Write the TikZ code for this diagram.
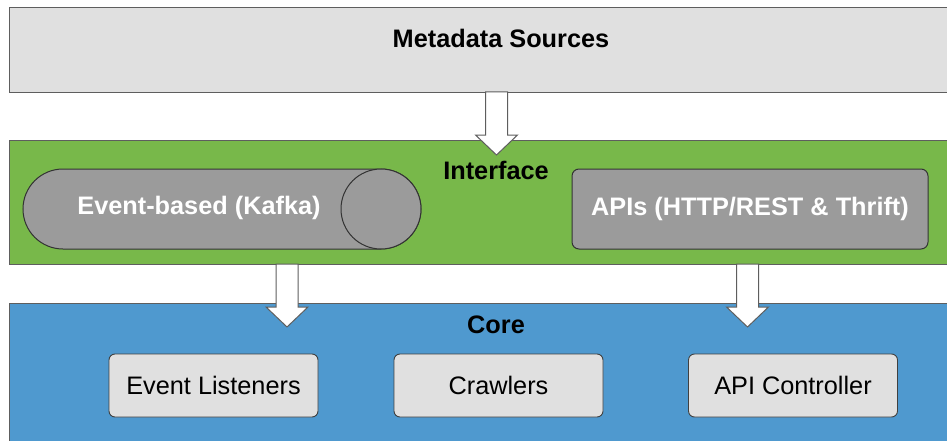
\documentclass[tikz,border=0pt]{standalone}
\usepackage{fontspec}
\setmainfont{Liberation Sans}
\usetikzlibrary{calc}
\definecolor{metagray}{HTML}{E0E0E0}
\definecolor{ifgreen}{HTML}{78B84A}
\definecolor{coreblue}{HTML}{4F99CF}
\definecolor{darkfill}{HTML}{9B9B9B}
\definecolor{edgegray}{HTML}{5E5E5E}
\newcommand\blockarrow[2]{%
  \draw[blockarr] ($(#1)+(-11,0)$) -- ($(#1)+(11,0)$) -- ($(#2)+(11,-20)$) -- ($(#2)+(21,-20)$) -- (#2) -- ($(#2)+(-21,-20)$) -- ($(#2)+(-11,-20)$) -- cycle;}
\begin{document}
\begin{tikzpicture}[x=1pt,y=-1pt,
  band/.style={draw=edgegray, line width=1.2pt, anchor=north west, inner sep=0pt, minimum width=960pt},
  innerbox/.style={draw=black!75, fill=metagray, line width=0.9pt, rounded corners=6pt, minimum width=209pt, minimum height=63pt, inner sep=0pt, font=\fontsize{25.3}{29}\selectfont},
  title/.style={font=\bfseries\fontsize{25.3}{29}\selectfont, inner sep=0pt},
  blockarr/.style={draw=edgegray, fill=white, line width=1pt, line join=miter},
  darkshape/.style={draw=black!80, fill=darkfill, line width=1pt}]
\clip (0,0) rectangle (947,441);
\fill[white] (0,0) rectangle (947,441);
% bands
\node[band, fill=metagray, minimum height=85pt] (meta) at (9,7) {};
\node[band, fill=ifgreen, minimum height=124pt] (iface) at (9,140) {};
\node[band, fill=coreblue, minimum height=160pt] (core) at (9,303) {};
% titles
\node[title] (metat) at (501,38) {Metadata Sources};
\node[title] (ifacet) at (496,170) {Interface};
\node[title] (coret) at (496,325) {Core};
% kafka cylinder
\path[darkshape] (63,169) -- (381,169) arc[start angle=-90, end angle=90, x radius=40, y radius=40] -- (63,249) arc[start angle=90, end angle=270, x radius=40, y radius=40] -- cycle;
\draw[darkshape] (381,209) ellipse[x radius=40, y radius=40];
\node[title, text=white] (kafka) at (199,208) {Event-based (Kafka)};
% APIs
\node[darkshape, rounded corners=7pt, minimum width=356pt, minimum height=80pt, inner sep=0pt, text=white, font=\bfseries\fontsize{25.3}{29}\selectfont] (apis) at (750,209) {APIs (HTTP/REST \& Thrift)};
% core boxes
\node[innerbox] (listen) at (213.5,385.5) {Event Listeners};
\node[innerbox] (crawl) at (498.5,385.5) {Crawlers};
\node[innerbox] (apictl) at (793,385.5) {API Controller};
% arrows
\coordinate (a1s) at (496.5,92);
\coordinate (a1e) at (496.5,155);
\coordinate (a2s) at (287,264);
\coordinate (a2e) at (287,327);
\coordinate (a3s) at (747.5,264);
\coordinate (a3e) at (747.5,327);
\blockarrow{a1s}{a1e}
\blockarrow{a2s}{a2e}
\blockarrow{a3s}{a3e}
\end{tikzpicture}
\end{document}
